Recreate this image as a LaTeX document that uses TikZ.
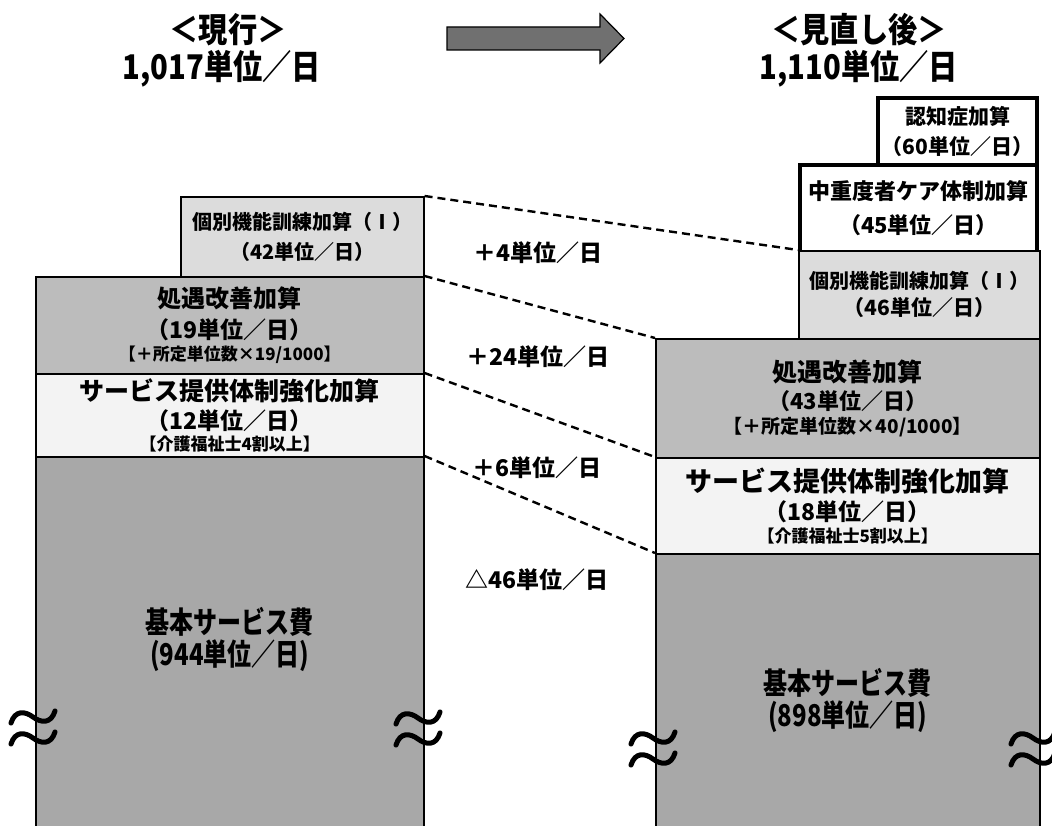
\documentclass[tikz,border=0pt]{standalone}
\usepackage{fontspec}
\setmainfont{Noto Sans CJK JP}
\newfontfamily\jpnarrow{Noto Sans CJK JP}[FakeStretch=0.8]
\newfontfamily\jptitle{Noto Sans CJK JP}[FakeStretch=0.86]
\usetikzlibrary{positioning}
\definecolor{kobetsugray}{RGB}{220,220,220}
\definecolor{shogugray}{RGB}{188,188,188}
\definecolor{servicegray}{RGB}{243,243,243}
\definecolor{basegray}{RGB}{168,168,168}
\definecolor{arrowgray}{RGB}{112,112,112}
\newcommand{\fsz}[1]{\fontsize{#1}{#1}\selectfont}

\begin{document}
\begin{tikzpicture}[x=1pt, y=-1pt,
    box/.style={draw, line width=1.6pt, anchor=north west, align=center,
        inner sep=0pt, font=\bfseries},
    newbox/.style={box, line width=4pt},
    basetext/.style={align=center, font=\jpnarrow\bfseries\fsz{30}},
    title/.style={font=\jptitle\fsz{34}\bfseries},
    difflabel/.style={font=\fsz{23}\bfseries},
    dashline/.style={line width=2.4pt, dash pattern=on 8pt off 5pt},
    tilde/.style={line width=5pt, line cap=round}]
    \clip (0,0) rectangle (1052,826);

    % Titles
    \node[title] (cur) at (228,30) {＜現行＞};
    \node[title] (curtotal) at (222,69) {1,017単位／日};
    \node[title] (rev) at (859,30) {＜見直し後＞};
    \node[title] (revtotal) at (859,69) {1,110単位／日};
    \draw[line width=1.2pt, fill=arrowgray] (447,27) -- (600,27) -- (600,14)
        -- (624,38.5) -- (600,63) -- (600,50) -- (447,50) -- cycle;

    % Current
    \node[box, fill=kobetsugray, minimum width=243pt, minimum height=80pt]
        (lkob) at (180,196) {\fsz{20}個別機能訓練加算（Ⅰ）\\[9pt]\fsz{20}（42単位／日）};
    \node[box, fill=shogugray, minimum width=388pt, minimum height=97pt]
        (lshogu) at (35,276) {\fsz{24}処遇改善加算\\[7pt]\fsz{23}（19単位／日）\\[4pt]
        \fsz{17}【＋所定単位数×19/1000】};
    \node[box, fill=servicegray, minimum width=388pt, minimum height=83pt]
        (lserv) at (35,373) {\fsz{25}サービス提供体制強化加算\\[6pt]\fsz{23}（12単位／日）\\[3pt]
        \fsz{17}【介護福祉士4割以上】};
    \node[box, fill=basegray, minimum width=388pt, minimum height=400pt]
        (lbase) at (35,456) {};
    \node[basetext, below=148pt of lbase.north] (lbasetext)
        {基本サービス費\\[2pt](944単位／日)};

    % Revised
    \node[newbox, fill=white, minimum width=159pt, minimum height=67pt]
        (rnin) at (876,96) {\fsz{21}認知症加算\\[8pt]\fsz{21}（60単位／日）};
    \node[newbox, fill=white, minimum width=237pt, minimum height=87pt]
        (rchu) at (798,163) {\fsz{22}中重度者ケア体制加算\\[12pt]\fsz{22}（45単位／日）};
    \node[box, fill=kobetsugray, minimum width=241pt, minimum height=88pt]
        (rkob) at (798,250) {\fsz{20}個別機能訓練加算（Ⅰ）\\[6pt]\fsz{21}（46単位／日）};
    \node[box, fill=shogugray, minimum width=384pt, minimum height=119pt]
        (rshogu) at (655,338) {\fsz{25}処遇改善加算\\[6pt]\fsz{22}（43単位／日）\\[4pt]
        \fsz{19}【＋所定単位数×40/1000】};
    \node[box, fill=servicegray, minimum width=384pt, minimum height=96pt]
        (rserv) at (655,457) {\fsz{27}サービス提供体制強化加算\\[5pt]\fsz{23}（18単位／日）\\[4pt]
        \fsz{17}【介護福祉士5割以上】};
    \node[box, fill=basegray, minimum width=384pt, minimum height=300pt]
        (rbase) at (655,553) {};
    \node[basetext, below=112pt of rbase.north] (rbasetext)
        {基本サービス費\\[2pt](898単位／日)};

    % Differences
    \draw[dashline] (lkob.north east) -- (rkob.north west);
    \draw[dashline] (lshogu.north east) -- (rshogu.north west);
    \draw[dashline] (lserv.north east) -- (rserv.north west);
    \draw[dashline] (lbase.north east) -- (rbase.north west);
    \node[difflabel] (dkob) at (538,253) {＋4単位／日};
    \node[difflabel] (dshogu) at (538,357) {＋24単位／日};
    \node[difflabel] (dserv) at (537,468) {＋6単位／日};
    \node[difflabel] (dbase) at (537,580) {△46単位／日};

    % Breaks
    \foreach \wx/\wy in {33/717, 418/718, 653/738, 1033/738} {
        \foreach \dy in {0,21} {
            \draw[tilde] (\wx-22,\wy+\dy+6) .. controls (\wx-18,\wy+\dy-7) and (\wx-8,\wy+\dy-6)
                .. (\wx,\wy+\dy) .. controls (\wx+8,\wy+\dy+6) and (\wx+18,\wy+\dy+7)
                .. (\wx+22,\wy+\dy-6);
        }
    }
\end{tikzpicture}
\end{document}
